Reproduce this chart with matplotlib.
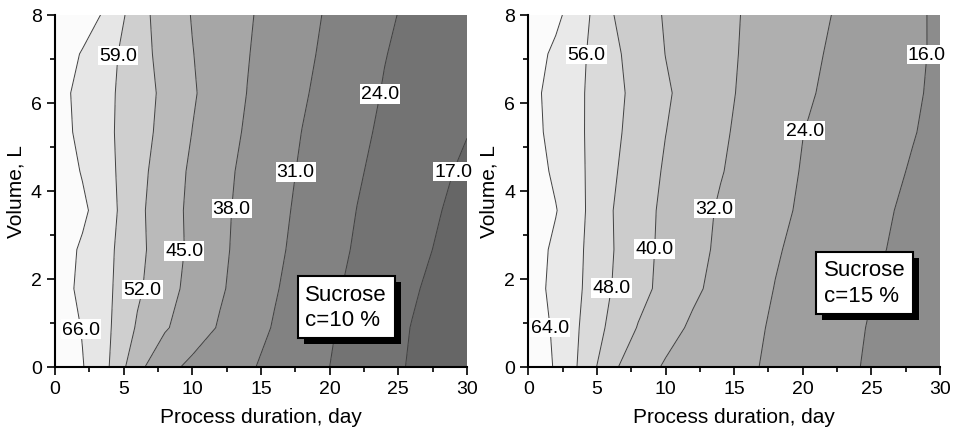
import numpy as np
import matplotlib.pyplot as plt
import matplotlib.patheffects as pe

plt.rcParams['font.family'] = ['Liberation Sans', 'DejaVu Sans']

# grid of the response surface
days = np.arange(0, 31, 2)          # process duration, day
volume = np.linspace(0, 8, 10)      # volume, L

# sucrose c = 10 %, rows go from V = 0 to V = 8
z10 = np.array([
    [73.0, 66.4, 58.8, 46.9, 40.1, 36.5, 34.2, 31.8, 29.3, 26.7, 24.0, 21.5, 18.9, 16.4, 13.8, 11.2],
    [71.8, 65.6, 59.4, 51.2, 45.7, 41.4, 37.4, 33.9, 30.5, 27.5, 24.6, 21.9, 19.4, 16.8, 14.3, 11.7],
    [69.3, 64.5, 59.7, 53.1, 47.6, 42.9, 38.8, 35.1, 31.5, 28.3, 25.2, 22.5, 20.1, 17.7, 15.3, 12.9],
    [69.9, 65.0, 60.0, 53.8, 48.4, 43.6, 39.3, 35.7, 32.3, 29.1, 26.1, 23.3, 21.0, 18.7, 16.4, 14.1],
    [72.5, 67.4, 61.0, 53.6, 48.1, 43.5, 39.5, 36.0, 32.8, 29.7, 26.8, 23.9, 21.7, 19.5, 17.2, 14.9],
    [70.8, 65.5, 60.3, 54.2, 48.7, 43.9, 40.0, 36.4, 33.3, 30.3, 27.5, 24.6, 22.3, 20.2, 18.1, 15.9],
    [68.9, 64.4, 59.8, 54.9, 49.9, 44.9, 41.0, 37.2, 34.1, 30.9, 28.1, 25.3, 23.0, 21.1, 19.1, 17.2],
    [68.4, 64.2, 59.9, 55.3, 50.5, 45.7, 41.7, 37.9, 34.8, 31.7, 28.9, 26.1, 23.6, 21.7, 19.8, 17.9],
    [70.2, 65.5, 60.7, 54.9, 49.6, 45.2, 41.7, 38.3, 35.3, 32.4, 29.6, 26.9, 24.2, 22.3, 20.4, 18.5],
    [73.3, 69.3, 64.3, 54.7, 48.9, 44.7, 41.7, 38.7, 35.8, 33.0, 30.2, 27.6, 25.0, 22.8, 20.9, 19.0],
])
levels10 = [17, 24, 31, 38, 45, 52, 59, 66]
labels10_at = [(1.9, 0.86), (6.7, 1.73), (9.5, 2.63), (12.6, 3.6),
               (17.5, 4.43), (23.7, 6.2), (29.1, 4.43), (4.9, 7.07)]

# sucrose c = 15 %
z15 = np.array([
    [70.4, 63.2, 53.9, 41.8, 35.5, 31.2, 29.1, 27.0, 24.9, 22.7, 20.6, 18.4, 16.2, 14.1, 11.9, 9.8],
    [69.8, 62.5, 54.9, 46.2, 39.6, 34.7, 30.8, 28.2, 25.6, 23.1, 21.0, 18.8, 16.6, 14.5, 12.3, 10.2],
    [67.8, 61.8, 55.8, 48.2, 42.6, 37.6, 33.3, 29.8, 26.7, 23.8, 21.6, 19.5, 17.3, 15.1, 13.0, 10.8],
    [68.5, 62.3, 56.1, 48.7, 42.9, 38.1, 34.3, 30.7, 27.7, 24.6, 22.3, 20.2, 18.1, 16.1, 14.0, 11.9],
    [71.0, 64.4, 56.7, 48.5, 43.1, 38.4, 34.7, 31.2, 28.4, 25.6, 23.1, 20.9, 18.8, 16.7, 14.6, 12.4],
    [68.5, 62.5, 56.5, 49.4, 43.9, 39.2, 35.8, 32.4, 29.4, 26.4, 23.6, 21.6, 19.5, 17.5, 15.5, 13.5],
    [66.9, 61.6, 56.3, 50.2, 44.9, 40.1, 36.6, 33.1, 30.0, 27.1, 24.1, 22.1, 20.2, 18.3, 16.3, 14.4],
    [66.4, 61.4, 56.3, 50.7, 45.6, 40.9, 37.2, 33.7, 30.6, 27.9, 25.1, 22.8, 20.8, 18.8, 16.8, 14.8],
    [68.0, 62.4, 56.8, 50.1, 44.7, 39.9, 36.9, 33.9, 31.0, 28.4, 25.8, 23.4, 21.3, 19.2, 17.1, 15.0],
    [70.8, 65.8, 58.4, 48.6, 43.6, 39.4, 36.7, 33.9, 31.3, 28.9, 26.5, 24.1, 21.8, 19.5, 17.2, 14.9],
])
levels15 = [16, 24, 32, 40, 48, 56, 64]
labels15_at = [(1.7, 0.9), (6.25, 1.79), (9.2, 2.68), (13.6, 3.6),
               (20.5, 5.33), (28.9, 7.1), (4.3, 7.1)]

grays10 = ['0.40', '0.45', '0.51', '0.58', '0.65', '0.73', '0.81', '0.90', '0.985']
grays15 = ['0.55', '0.62', '0.685', '0.745', '0.80', '0.855', '0.915', '0.985']


def draw(ax, z, levels, grays, label_pos, note, note_xy):
    ax.contourf(days, volume, z, levels=[0] + levels + [100], colors=grays)
    cs = ax.contour(days, volume, z, levels=levels, colors='#404040', linewidths=0.7)
    texts = ax.clabel(cs, manual=label_pos, inline=False, fmt='%.1f', fontsize=14)
    for t in texts:
        t.set_rotation(0)
        t.set_color('black')
        t.set_bbox(dict(facecolor='white', edgecolor='none', pad=0.8))
        t.set_clip_on(False)

    # boxed note with a hard black shadow
    t = ax.text(*note_xy, note, ha='center', va='center', fontsize=16,
                linespacing=1.3, multialignment='left',
                bbox=dict(boxstyle='square,pad=0.35', lw=1.5, ec='black', fc='white'))
    t.get_bbox_patch().set_path_effects([
        pe.SimplePatchShadow(offset=(4.5, -4.5), shadow_rgbFace='black', alpha=1),
        pe.Normal()])

    ax.set_xlim(0, 30)
    ax.set_ylim(0, 8)
    ax.set_xticks(range(0, 31, 5))
    ax.set_xticks(np.arange(2.5, 30, 5), minor=True)
    ax.set_yticks(range(0, 9, 2))
    ax.set_yticks(range(1, 9, 2), minor=True)
    ax.tick_params(which='both', direction='out', width=1.2, labelsize=14)
    ax.tick_params(which='major', length=6)
    ax.tick_params(which='minor', length=3.5)
    for s in ['top', 'right']:
        ax.spines[s].set_visible(False)
    for s in ['left', 'bottom']:
        ax.spines[s].set_linewidth(1.5)
    ax.set_xlabel('Process duration, day', fontsize=15, labelpad=7)
    ax.set_ylabel('Volume, L', fontsize=15)


fig = plt.figure(figsize=(9.56, 4.39), dpi=100)
ax1 = fig.add_axes([0.0575, 0.162, 0.431, 0.802])
ax2 = fig.add_axes([0.5526, 0.162, 0.4307, 0.802])

draw(ax1, z10, levels10, grays10, labels10_at, 'Sucrose\nc=10 %', (21.2, 1.36))
draw(ax2, z15, levels15, grays15, labels15_at, 'Sucrose\nc=15 %', (24.5, 1.91))

fig.savefig('out.png', dpi=100)
